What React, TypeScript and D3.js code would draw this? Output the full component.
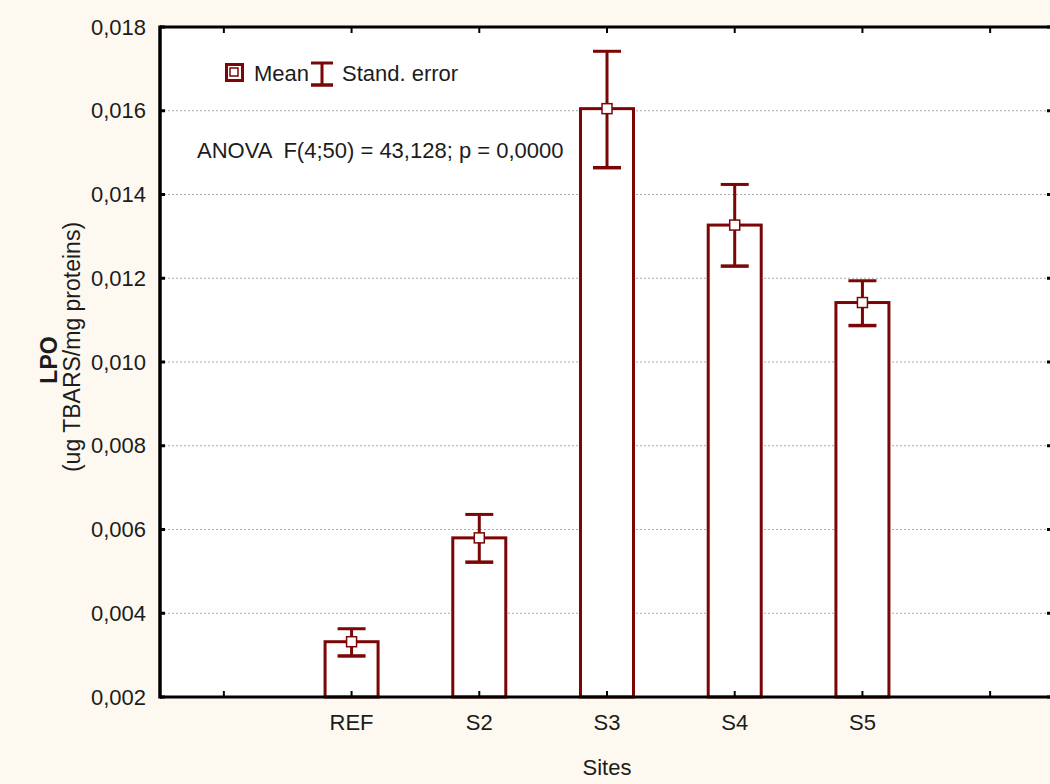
import React from "react";
import * as d3 from "d3";

const sites = ["REF", "S2", "S3", "S4", "S5"];
const means = [0.00332, 0.0058, 0.01605, 0.01327, 0.01142];
const seUpper = [0.00363, 0.00636, 0.01742, 0.01424, 0.01194];
const seLower = [0.00298, 0.00522, 0.01464, 0.01229, 0.01087];
const yTicks = [0.002, 0.004, 0.006, 0.008, 0.01, 0.012, 0.014, 0.016, 0.018];

const W = 1050;
const H = 784;
const RED = "#7a0606";
const TXT = "#1c1c1c";
const FONT = "'Liberation Sans', Arial, sans-serif";
const FS = 22;

export default function App() {
  const slots = ["_l", ...sites, "_r"];
  const x = d3.scaleBand<string>().domain(slots).range([160, 1054]).padding(0);
  const bw = x.bandwidth();
  const cx = (s: string) => (x(s) as number) + bw / 2;
  const y = d3.scaleLinear().domain([0.002, 0.018]).range([697, 27]);
  const fmt = (v: number) => d3.format(".3f")(v).replace(".", ",");
  const barW = 53;
  const capW = 28;
  const left = 160, top = 27, bottom = 697, right = 1054;

  return (
    <svg
      width={W}
      height={H}
      style={{ position: "absolute", left: 0, top: 0, fontFamily: FONT }}
    >
      <rect x={0} y={0} width={W} height={H} fill="#fdf9f0" />
      <rect x={left} y={top} width={right - left} height={bottom - top} fill="#ffffff" />
      {/* grid */}
      {yTicks.slice(1, -1).map((t) => (
        <line key={"g" + t} x1={left} x2={right} y1={y(t)} y2={y(t)} stroke="#aaa" strokeWidth={1} strokeDasharray="2,2" />
      ))}
      {/* bars */}
      {sites.map((s, i) => (
        <g key={s}>
          <rect
            x={cx(s) - barW / 2}
            y={y(means[i])}
            width={barW}
            height={bottom - y(means[i])}
            fill="#fff"
            stroke={RED}
            strokeWidth={3}
          />
          <line x1={cx(s)} x2={cx(s)} y1={y(seUpper[i])} y2={y(seLower[i])} stroke={RED} strokeWidth={3} />
          <line x1={cx(s) - capW / 2} x2={cx(s) + capW / 2} y1={y(seUpper[i])} y2={y(seUpper[i])} stroke={RED} strokeWidth={3} />
          <line x1={cx(s) - capW / 2} x2={cx(s) + capW / 2} y1={y(seLower[i])} y2={y(seLower[i])} stroke={RED} strokeWidth={3.5} />
          <rect x={cx(s) - 5} y={y(means[i]) - 5} width={10} height={10} fill="#fff" stroke={RED} strokeWidth={1.5} />
        </g>
      ))}
      {/* axes */}
      <line x1={left} x2={left} y1={top - 1.5} y2={bottom + 1.5} stroke="#000" strokeWidth={3.5} />
      <line x1={left} x2={right} y1={top} y2={top} stroke="#000" strokeWidth={3} />
      <line x1={left} x2={right} y1={bottom} y2={bottom} stroke="#000" strokeWidth={3} />
      {yTicks.map((t) => (
        <g key={"t" + t}>
          <line x1={left} x2={left + 5} y1={y(t)} y2={y(t)} stroke="#000" strokeWidth={3} />
          <rect x={1047} y={y(t) - 1.5} width={3} height={3} fill="#000" />
          <text x={146} y={y(t)} dy="0.35em" textAnchor="end" fontSize={FS} fill={TXT}>
            {fmt(t)}
          </text>
        </g>
      ))}
      {slots.map((s) => (
        <g key={"x" + s}>
          <line x1={cx(s)} x2={cx(s)} y1={top} y2={top + 6} stroke="#000" strokeWidth={2} />
          <line x1={cx(s)} x2={cx(s)} y1={bottom} y2={bottom - 6} stroke="#000" strokeWidth={2} />
        </g>
      ))}
      {sites.map((s) => (
        <text key={"xl" + s} x={cx(s)} y={730} textAnchor="middle" fontSize={FS} fill={TXT}>
          {s}
        </text>
      ))}
      <text x={cx("S3")} y={775} textAnchor="middle" fontSize={FS} fill={TXT}>
        Sites
      </text>
      {/* y label */}
      <text transform="translate(57,360) rotate(-90)" textAnchor="middle" fontSize={23} fontWeight="bold" fill={TXT}>
        LPO
      </text>
      <text transform="translate(80,347) rotate(-90)" textAnchor="middle" fontSize={23} fill={TXT}>
        (ug TBARS/mg proteins)
      </text>
      {/* legend */}
      <rect x={226.5} y={64.5} width={16} height={16} fill="#fff" stroke={RED} strokeWidth={3} />
      <rect x={230} y={68} width={8} height={8} fill="#fff" stroke={RED} strokeWidth={1.5} />
      <text x={254} y={81} fontSize={FS} fill={TXT}>Mean</text>
      <line x1={322} x2={322} y1={63} y2={85} stroke={RED} strokeWidth={3} />
      <line x1={311} x2={333} y1={63} y2={63} stroke={RED} strokeWidth={3} />
      <line x1={311} x2={333} y1={85} y2={85} stroke={RED} strokeWidth={3.5} />
      <text x={342} y={81} fontSize={FS} fill={TXT}>Stand. error</text>
      <text x={197} y={158} fontSize={FS} fill={TXT} style={{ whiteSpace: "pre" }}>
        {"ANOVA  F(4;50) = 43,128; p = 0,0000"}
      </text>
    </svg>
  );
}
